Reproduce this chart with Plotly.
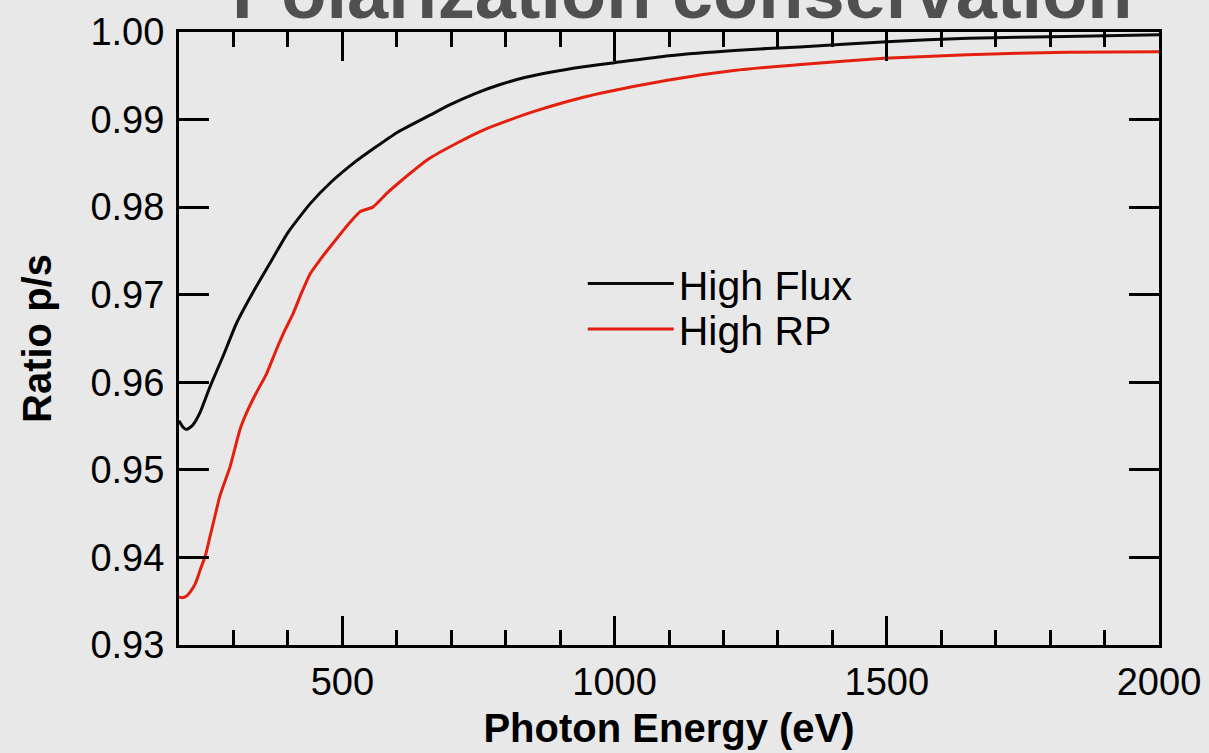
import plotly.graph_objects as go

# p/s polarization ratio vs photon energy for two grating modes
energy_flux = [200, 207, 214, 225, 239, 257, 281, 306, 337, 367, 400, 441, 480,
               520, 560, 600, 661, 698, 745, 790, 835, 882, 940, 1000, 1100,
               1220, 1340, 1500, 1650, 1830, 2000]
ratio_flux = [0.9556, 0.9549, 0.9546, 0.9551, 0.9566, 0.9595, 0.9630, 0.9668,
              0.9704, 0.9736, 0.9771, 0.9804, 0.9829, 0.9850, 0.9868, 0.9885,
              0.9905, 0.9917, 0.9930, 0.9940, 0.9948, 0.9954, 0.9960, 0.9965,
              0.9973, 0.9979, 0.9983, 0.9989, 0.9993, 0.9995, 0.9997]

energy_rp = [200, 206, 214, 220, 230, 239, 248, 257, 266, 275, 294, 312, 324,
             342, 361, 378, 395, 410, 425, 441, 458, 478, 505, 533, 556, 582,
             606, 661, 710, 759, 805, 851, 910, 974, 1097, 1219, 1342, 1495,
             1648, 1832, 2000]
ratio_rp = [0.9355, 0.9354, 0.9356, 0.9360, 0.9370, 0.9386, 0.9401, 0.9424,
            0.9447, 0.9470, 0.9504, 0.9546, 0.9565, 0.9588, 0.9610, 0.9636,
            0.9660, 0.9679, 0.9702, 0.9724, 0.9739, 0.9755, 0.9776, 0.9795,
            0.9800, 0.9816, 0.9829, 0.9856, 0.9873, 0.9888, 0.9899, 0.9909,
            0.9920, 0.9930, 0.9945, 0.9956, 0.9963, 0.9970, 0.9974, 0.9977,
            0.99775]

series_names = ["High Flux", "High RP"]
series_colors = ["#0a0a0a", "#e3200f"]

x_tick_vals = [500, 1000, 1500, 2000]
x_minor_vals = [300, 400, 600, 700, 800, 900, 1100, 1200, 1300, 1400,
                1600, 1700, 1800, 1900]
y_tick_vals = [0.93, 0.94, 0.95, 0.96, 0.97, 0.98, 0.99, 1.00]
y_tick_text = [f"{v:.2f}" for v in y_tick_vals]

title_text = "Polarization conservation"
x_title = "Photon Energy (eV)"
y_title = "Ratio p/s"

FONT = "Liberation Sans, Arial, sans-serif"
BG = "#e8e8e8"

fig = go.Figure()
fig.add_trace(go.Scatter(x=energy_flux, y=ratio_flux, mode="lines",
                         name=series_names[0], legend="legend",
                         line=dict(color=series_colors[0], width=3, shape="spline", smoothing=0.5)))
fig.add_trace(go.Scatter(x=energy_rp, y=ratio_rp, mode="lines",
                         name=series_names[1], legend="legend2",
                         line=dict(color=series_colors[1], width=3, shape="spline", smoothing=0.5)))

axis_common = dict(
    showline=True, linewidth=3, linecolor="black", mirror="ticks",
    ticks="inside", tickcolor="black", tickwidth=2.5,
    showgrid=False, zeroline=False, automargin=False,
    tickfont=dict(family=FONT, size=38, color="black"),
)

fig.update_xaxes(
    range=[200, 2000], tickvals=x_tick_vals, ticklen=29,
    minor=dict(tickvals=x_minor_vals, ticks="inside", ticklen=15,
               tickwidth=2.5, tickcolor="black", showgrid=False),
    ticklabelstandoff=1,
    title=dict(text=x_title, standoff=13,
               font=dict(family=FONT, size=40, color="black", weight="bold")),
    **axis_common,
)
fig.update_yaxes(
    range=[0.93, 1.00], tickvals=y_tick_vals, ticktext=y_tick_text, ticklen=30,
    ticklabelstandoff=4,
    title=dict(text=y_title, standoff=27,
               font=dict(family=FONT, size=40, color="black", weight="bold")),
    **axis_common,
)

legend_common = dict(
    xanchor="left", yanchor="middle", bgcolor="rgba(0,0,0,0)",
    borderwidth=0, itemwidth=86, font=dict(family=FONT, size=41, color="black"),
)

fig.update_layout(
    width=1209, height=753,
    margin=dict(l=179, r=50, t=32, b=108),
    paper_bgcolor=BG, plot_bgcolor=BG,
    font=dict(family=FONT),
    showlegend=True,
    legend=dict(x=0.412, y=0.589, **legend_common),
    legend2=dict(x=0.412, y=0.515, **legend_common),
    annotations=[dict(
        text=title_text, xref="paper", yref="paper",
        x=0.514, y=1.065, xanchor="center", yanchor="middle", showarrow=False,
        font=dict(family=FONT, size=74, color="#505050", weight="bold"),
    )],
)

fig.write_html("out.html")
